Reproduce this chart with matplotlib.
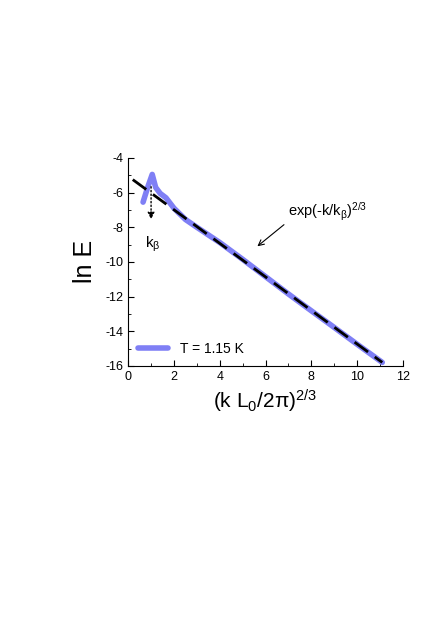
import matplotlib
matplotlib.use("Agg")
import matplotlib.pyplot as plt
from matplotlib.ticker import MultipleLocator

plt.rcParams['font.family'] = ['Liberation Sans', 'DejaVu Sans']
plt.rcParams['mathtext.fontset'] = 'custom'
plt.rcParams['mathtext.rm'] = 'Liberation Sans'
plt.rcParams['mathtext.it'] = 'Liberation Sans'
plt.rcParams['mathtext.default'] = 'regular'
plt.rcParams['axes.unicode_minus'] = False

# data
x_data = [0.65, 0.85, 1.05, 1.2, 1.4, 1.65, 2.0, 2.5, 3.0, 4.0, 5.0, 6.0, 7.0, 8.0, 9.0, 10.0, 11.1]
y_data = [-6.55, -5.7, -4.95, -5.7, -6.05, -6.3, -6.9, -7.55, -8.0, -8.88, -9.85, -10.85, -11.85, -12.82, -13.78, -14.75, -15.8]
fit_x = [0.2, 11.1]
fit_y = [-5.25, -15.8]
xticks = [0, 2, 4, 6, 8, 10, 12]
yticks = [-4, -6, -8, -10, -12, -14, -16]

fig = plt.figure(figsize=(4.36, 6.17), dpi=100)
ax = fig.add_axes([0.294, 0.407, 0.630, 0.337])
ax.plot(x_data, y_data, color='#7f7ff5', lw=4, solid_capstyle='round', solid_joinstyle='round',
        label='T = 1.15 K', zorder=2)
ax.plot(fit_x, fit_y, color='black', lw=2, dashes=(6, 3), zorder=3)

ax.set_xlim(0, 12)
ax.set_ylim(-16, -4)
ax.set_xticks(xticks)
ax.set_yticks(yticks)
ax.xaxis.set_minor_locator(MultipleLocator(1))
ax.yaxis.set_minor_locator(MultipleLocator(1))
ax.tick_params(which='both', direction='in', labelsize=9, top=False, right=False)
ax.tick_params(which='major', length=4)
ax.tick_params(which='minor', length=2.5)
for s in ['top', 'right']:
    ax.spines[s].set_visible(False)

ax.set_ylabel('ln E', fontsize=18, labelpad=6)
ax.set_xlabel(r'(k L$_0$/2π)$^{2/3}$', fontsize=15, labelpad=4)

ax.annotate('', xy=(1.0, -7.7), xytext=(1.0, -5.5),
            arrowprops=dict(arrowstyle='-|>', ls=':', lw=1, color='black', mutation_scale=10))
ax.text(0.75, -9.2, r'k$_β$', fontsize=11)
ax.annotate('', xy=(5.55, -9.2), xytext=(6.9, -7.75),
            arrowprops=dict(arrowstyle='->', lw=0.8, color='black'))
ax.text(7.0, -7.1, r'exp(-k/k$_β$)$^{2/3}$', fontsize=10.5, va='center')

leg = ax.legend(loc='lower left', frameon=False, fontsize=10, handlelength=2.2, borderaxespad=0.3)

fig.savefig('out.png', dpi=100)
